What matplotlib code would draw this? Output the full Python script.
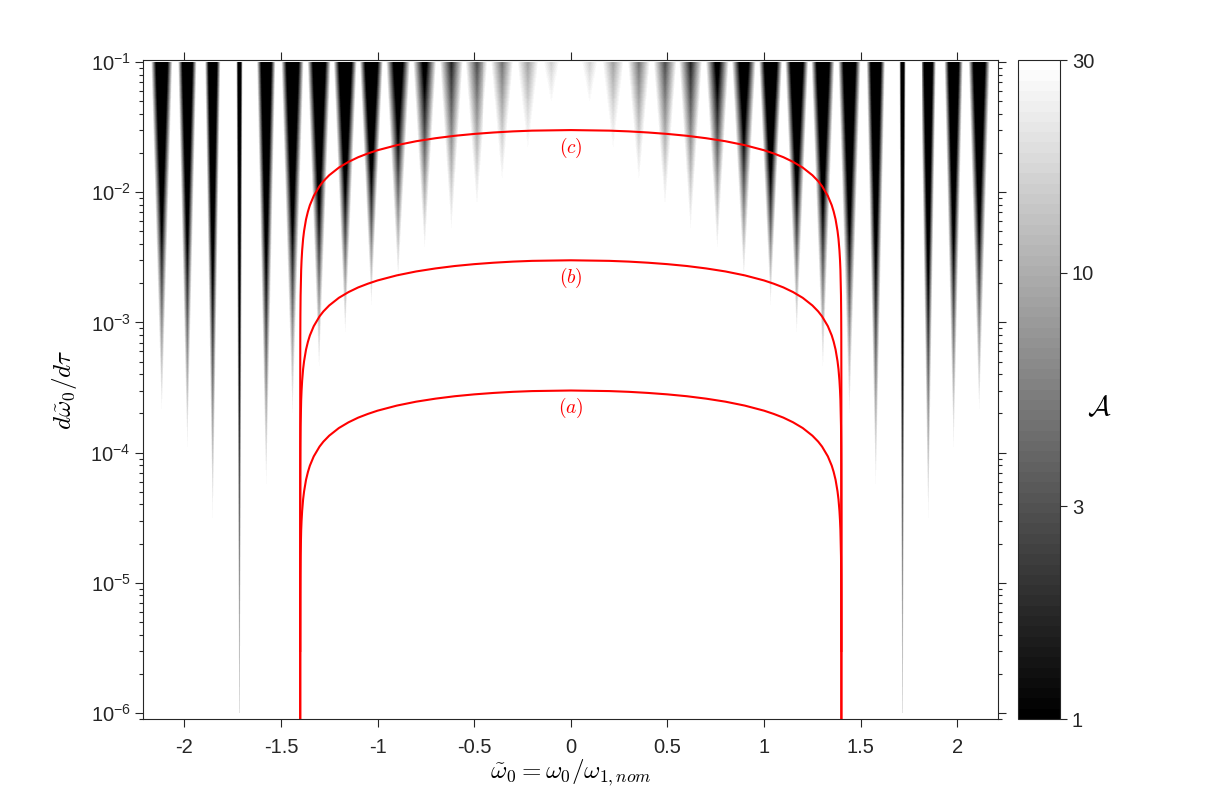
import numpy as np
import matplotlib
matplotlib.use('Agg')
import matplotlib.pyplot as plt
from matplotlib.colors import LogNorm
from matplotlib.ticker import FixedLocator, FixedFormatter, LogLocator, NullFormatter, NullLocator

plt.rcParams['font.family'] = ['Liberation Sans', 'DejaVu Sans']
plt.rcParams['mathtext.fontset'] = 'cm'
plt.rcParams['axes.unicode_minus'] = False

# ______________________________________________________________________________
# Data

# dark wedges (mirrored about 0): centre, tip value, half width at top, strength
wedge_x = [0.099, 0.220, 0.353, 0.488, 0.620, 0.758, 0.895, 1.033,
           1.168, 1.303, 1.440, 1.576, 1.714, 1.852, 1.983, 2.115]
wedge_tip = [4.4e-2, 1.9e-2, 1.07e-2, 6.7e-3, 4.5e-3, 3.2e-3, 1.9e-3, 1.2e-3,
             7.0e-4, 3.7e-4, 1.6e-4, 4.2e-5, 1e-7, 2.2e-5, 8.5e-5, 1.66e-4]
wedge_halfwidth = [0.042, 0.056, 0.058, 0.060, 0.060, 0.060, 0.062, 0.060,
                   0.060, 0.060, 0.058, 0.048, 0.016, 0.040, 0.048, 0.055]
wedge_strength = [0.09, 0.17, 0.25, 0.32, 0.40, 0.55, 0.75, 1.0,
                  1.0, 1.0, 1.0, 1.0, 0.9, 1.0, 1.0, 1.0]

# red curves: peak level and relative profile (right half, mirrored)
curve_peaks = [3e-4, 3e-3, 3e-2]
curve_labels = ['$(a)$', '$(b)$', '$(c)$']
curve_label_y = [2.2e-4, 2.2e-3, 2.2e-2]
profile_x = [0.0, 0.2, 0.3, 0.4, 0.5, 0.6, 0.7, 0.8, 0.9, 1.0, 1.05, 1.1,
             1.15, 1.2, 1.25, 1.28, 1.3, 1.33, 1.35, 1.36, 1.37, 1.38,
             1.385, 1.39, 1.393, 1.395, 1.398, 1.399, 1.3995, 1.3999,
             1.39995, 1.4]
profile_rel = [1.0, 0.990, 0.977, 0.958, 0.934, 0.904, 0.866, 0.821, 0.766,
               0.700, 0.661, 0.619, 0.570, 0.515, 0.450, 0.405, 0.371, 0.312,
               0.265, 0.237, 0.206, 0.168, 0.146, 0.119, 0.0998, 0.0845,
               0.0535, 0.0378, 0.0267, 0.012, 0.0085, 1e-4]

x_ticks = [-2, -1.5, -1, -0.5, 0, 0.5, 1, 1.5, 2]
x_tick_labels = ['-2', '-1.5', '-1', '-0.5', '0', '0.5', '1', '1.5', '2']
y_ticks = [1e-6, 1e-5, 1e-4, 1e-3, 1e-2, 1e-1]
y_tick_labels = [r'$\mathregular{10^{-%d}}$' % k for k in (6, 5, 4, 3, 2, 1)]
cbar_ticks = [1, 3, 10, 30]
cbar_tick_labels = ['1', '3', '10', '30']

XLIM = (-2.212, 2.212)
YLIM = (9.0e-7, 0.1035)
EDGE = '#262626'

# ______________________________________________________________________________
# Build the background map from the wedge readings

nx, ny, sup = 857, 330, 4
xe = np.linspace(XLIM[0], XLIM[1], nx + 1)
dxf = (XLIM[1] - XLIM[0]) / (nx * sup)
xf = XLIM[0] + dxf * (np.arange(nx * sup) + 0.5)
ye = np.logspace(-6, -1, ny + 1)
ly = np.log10(np.sqrt(ye[:-1] * ye[1:]))[:, None]

dark = np.zeros((ny, nx * sup))
for xc, tip, hw, s in zip(wedge_x, wedge_tip, wedge_halfwidth, wedge_strength):
    f = np.clip((ly - np.log10(tip)) / (-1 - np.log10(tip)), 0, 1)
    w = hw * f + 1e-12
    for sgn in (-1, 1):
        d = np.abs(xf[None, :] - sgn * xc)
        core = np.clip(1 - d / w, 0, None)
        dark = np.maximum(dark, np.minimum(1, 2.2 * s * core * f ** 1.2))
dark = dark.reshape(ny, nx, sup).mean(axis=2)
amp = 30.0 ** (1 - dark)

# ______________________________________________________________________________
# Figure

fig = plt.figure(figsize=(12.06, 8.07), dpi=100)
ax = fig.add_axes([0.1188, 0.109, 0.709, 0.8166])
cax = fig.add_axes([0.8444, 0.109, 0.0346, 0.8166])

mesh = ax.pcolormesh(xe, ye, amp, cmap=plt.get_cmap('gray', 64),
                     norm=LogNorm(vmin=1, vmax=30), shading='flat')

px = np.array(profile_x)
xs = np.concatenate([-px[::-1], px[1:]])
rel = np.concatenate([profile_rel[::-1], profile_rel[1:]])
for peak, lab, ly_ in zip(curve_peaks, curve_labels, curve_label_y):
    ax.plot(xs, peak * rel, color='#ff0000', lw=1.5)
    ax.text(0, ly_, lab, color='#ff0000', fontsize=14, ha='center', va='center')

ax.set_yscale('log')
ax.set_xlim(XLIM)
ax.set_ylim(YLIM)
ax.xaxis.set_major_locator(FixedLocator(x_ticks))
ax.xaxis.set_major_formatter(FixedFormatter(x_tick_labels))
ax.yaxis.set_major_locator(FixedLocator(y_ticks))
ax.yaxis.set_major_formatter(FixedFormatter(y_tick_labels))
ax.yaxis.set_minor_locator(LogLocator(base=10, subs=np.arange(2, 10), numticks=20))
ax.yaxis.set_minor_formatter(NullFormatter())
ax.tick_params(which='both', direction='out', top=True, right=True,
               colors=EDGE, labelsize=14.5, width=0.8)
ax.tick_params(which='major', length=5.5)
ax.tick_params(which='minor', length=3)
ax.tick_params(axis='x', pad=8)
for sp in ax.spines.values():
    sp.set_color(EDGE)
    sp.set_linewidth(0.8)

ax.set_xlabel(r'$\tilde{\omega}_0 = \omega_0/\omega_{1,nom}$', fontsize=18, labelpad=0)
ax.set_ylabel(r'$d\tilde{\omega}_0/d\tau$', fontsize=18, labelpad=8)

cb = fig.colorbar(mesh, cax=cax)
cb.set_ticks(cbar_ticks)
cb.set_ticklabels(cbar_tick_labels)
cax.yaxis.set_minor_locator(NullLocator())
cax.tick_params(which='both', direction='out', colors=EDGE, labelsize=14.5,
                length=5, width=0.8)
cb.outline.set_edgecolor(EDGE)
cb.outline.set_linewidth(0.8)
cax.set_ylabel(r'$\mathcal{A}$', fontsize=20, rotation=0, ha='center', va='center')
cax.yaxis.set_label_coords(1.95, 0.472)

fig.savefig('out.png', dpi=100)
